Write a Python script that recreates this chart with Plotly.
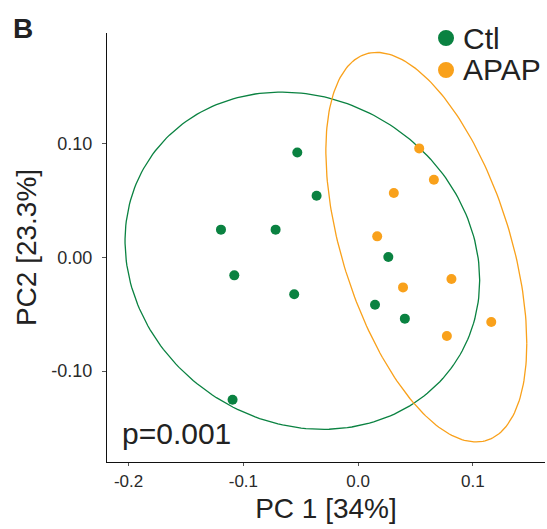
import numpy as np
import plotly.graph_objects as go

# ---- data ----
ctl_x = [-0.0530, -0.0362, -0.1195, -0.0719, -0.1079, -0.0557, 0.0263, 0.0147, 0.0407, -0.1094]
ctl_y = [0.0923, 0.0543, 0.0244, 0.0244, -0.0158, -0.0325, 0.0004, -0.0416, -0.0539, -0.1252]
apap_x = [0.0532, 0.0660, 0.0311, 0.0166, 0.0391, 0.0813, 0.1160, 0.0773]
apap_y = [0.0959, 0.0683, 0.0566, 0.0185, -0.0264, -0.0190, -0.0568, -0.0691]

# ellipse parameters: center (x, y) and shape matrix (xx, xy, yy)
ctl_center = [-0.0486, -0.0029]
ctl_shape = [0.02387, -0.002668, 0.02201]
apap_center = [0.0594, 0.0090]
apap_shape = [0.007662, -0.007409, 0.02936]

groups = ["Ctl", "APAP"]

x_ticks = [-0.2, -0.1, 0.0, 0.1]
x_ticklabels = ["-0.2", "-0.1", "0.0", "0.1"]
y_ticks = [-0.10, 0.00, 0.10]
y_ticklabels = ["-0.10", "0.00", "0.10"]

GREEN = "#0A8241"
ORANGE = "#F9A11B"
FONT = "Liberation Sans, Arial, sans-serif"
TXT = "#222222"


def ellipse(center, shape, n=240):
    sxx, sxy, syy = shape
    t = np.linspace(0, 2 * np.pi, n)
    a = np.sqrt(sxx)
    b = sxy / a
    c = np.sqrt(syy - b * b)
    return center[0] + a * np.cos(t), center[1] + b * np.cos(t) + c * np.sin(t)


fig = go.Figure()
ex, ey = ellipse(ctl_center, ctl_shape)
fig.add_trace(go.Scatter(x=ex, y=ey, mode="lines", line=dict(color=GREEN, width=1.3),
                         showlegend=False, hoverinfo="skip"))
ex, ey = ellipse(apap_center, apap_shape)
fig.add_trace(go.Scatter(x=ex, y=ey, mode="lines", line=dict(color=ORANGE, width=1.3),
                         showlegend=False, hoverinfo="skip"))

fig.add_trace(go.Scatter(x=ctl_x, y=ctl_y, mode="markers", name=groups[0],
                         marker=dict(color=GREEN, size=10), showlegend=False))
fig.add_trace(go.Scatter(x=apap_x, y=apap_y, mode="markers", name=groups[1],
                         marker=dict(color=ORANGE, size=10), showlegend=False))

# hand-placed legend (keys + labels)
leg_x = 0.774
leg_text_x = 0.808
leg_ys = [0.9883, 0.9138]
rx, ry = 8 / 438, 8 / 429
shapes = []
annotations = []
for name, col, ly in zip(groups, [GREEN, ORANGE], leg_ys):
    shapes.append(dict(type="circle", xref="paper", yref="paper",
                       x0=leg_x - rx, x1=leg_x + rx, y0=ly - ry, y1=ly + ry,
                       fillcolor=col, line=dict(width=0)))
    annotations.append(dict(text=name, x=leg_text_x, y=ly, xref="paper", yref="paper",
                            xanchor="left", yanchor="middle", showarrow=False,
                            font=dict(family=FONT, size=30, color=TXT)))

annotations += [
    dict(text="p=0.001", x=0.03, y=0.067, xref="paper", yref="paper", xanchor="left", yanchor="middle",
         showarrow=False, font=dict(family=FONT, size=30, color=TXT)),
    dict(text="<b>B</b>", x=-0.22, y=1.01, xref="paper", yref="paper", xanchor="left", yanchor="middle",
         showarrow=False, font=dict(family=FONT, size=28, color=TXT)),
]

axis_common = dict(showgrid=False, zeroline=False, showline=True, linecolor="#111111", linewidth=1.3,
                   ticks="outside", tickcolor="#555555", tickwidth=1)

fig.update_layout(
    width=547, height=529,
    margin=dict(l=107, r=2, t=33, b=67),
    paper_bgcolor="white", plot_bgcolor="white",
    font=dict(family=FONT, color=TXT),
    showlegend=False,
    xaxis=dict(range=[-0.2188, 0.1628], tickvals=x_ticks, ticktext=x_ticklabels, ticklen=3,
               tickfont=dict(family=FONT, size=17, color="#2a2a2a"),
               title=dict(text="PC 1 [34%]", font=dict(family=FONT, size=28, color=TXT), standoff=8),
               **axis_common),
    yaxis=dict(range=[-0.180, 0.1974], tickvals=y_ticks, ticktext=y_ticklabels, ticklen=4,
               ticklabelstandoff=6,
               tickfont=dict(family=FONT, size=18, color="#2a2a2a"),
               title=dict(text="PC2 [23.3%]", font=dict(family=FONT, size=28, color=TXT), standoff=6),
               **axis_common),
    shapes=shapes,
    annotations=annotations,
)

fig.write_html("out.html")
